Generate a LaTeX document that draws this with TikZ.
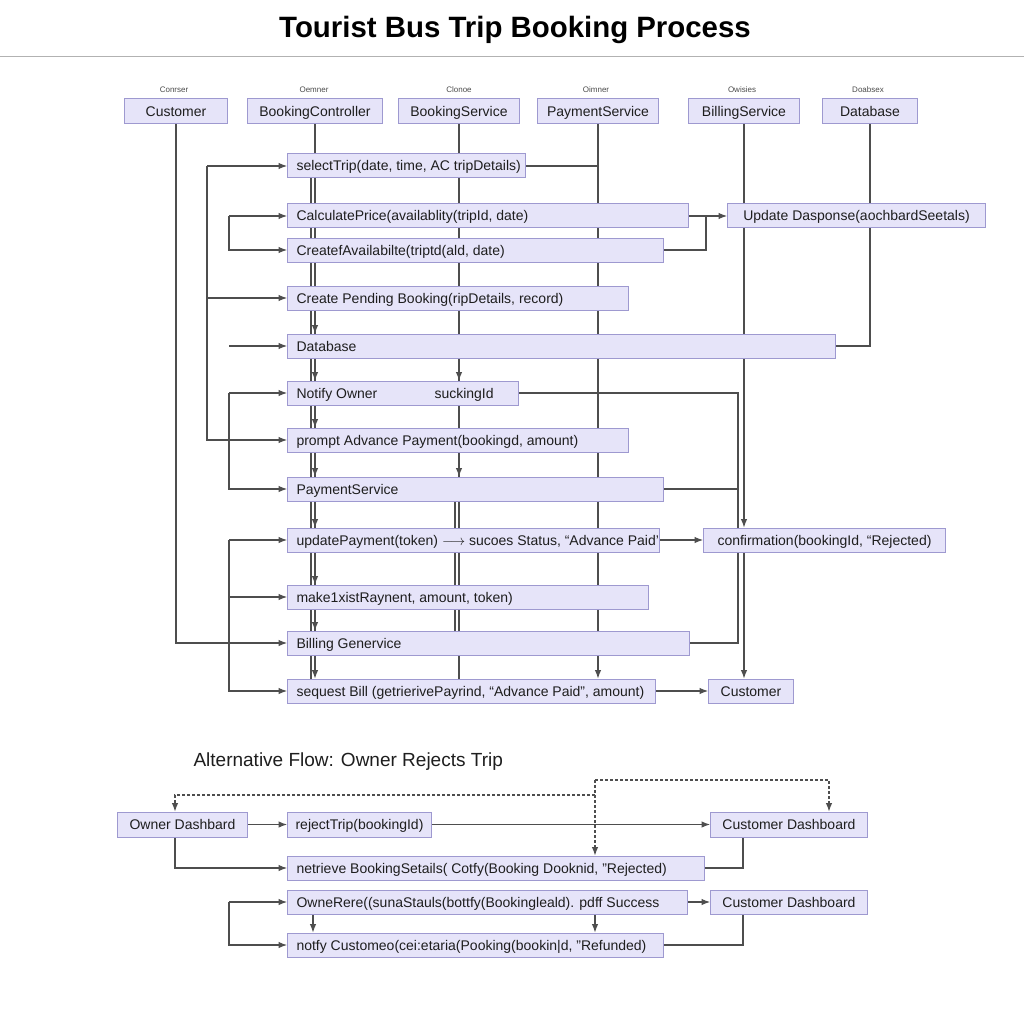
\documentclass[tikz,border=0pt]{standalone}
\usepackage{fontspec}
\setmainfont{Liberation Sans}
\usetikzlibrary{arrows.meta,backgrounds,calc}
\definecolor{boxc}{RGB}{230,228,249}
\definecolor{bordc}{RGB}{158,153,208}
\definecolor{linec}{RGB}{78,78,78}
\definecolor{txtc}{RGB}{30,30,30}
\newcommand\mlbox[2]{\makebox[#1pt][l]{#2}}
\begin{document}
\begin{tikzpicture}[x=1pt,y=-1pt,
  base/.style={draw=bordc, fill=boxc, line width=1pt, minimum height=24pt, inner ysep=0pt, text height=12pt, text depth=2pt, text=txtc, font=\fontsize{14}{16}\selectfont},
  msg/.style={base, anchor=west, inner xsep=9pt},
  cbox/.style={base, anchor=west, inner xsep=2pt},
  lnk/.style={draw=linec, line width=1.05pt},
  arr/.style={lnk, -{Latex[length=8.5pt,width=6.5pt]}},
  dsh/.style={arr, dash pattern=on 3pt off 2pt},
  tiny/.style={font=\fontsize{8}{9}\selectfont, text=black!70}
]
\useasboundingbox (0,0) rectangle (1024,1024);
% title
\node[font=\bfseries\fontsize{29.4}{33}\selectfont, text=black] (title) at (515,30) {Tourist Bus Trip Booking Process};
% header labels
\node[tiny] (t1) at (174,90) {Conrser};
\node[tiny] (t2) at (314,90) {Oemner};
\node[tiny] (t3) at (459,90) {Clonoe};
\node[tiny] (t4) at (596,90) {Oimner};
\node[tiny] (t5) at (742,90) {Owisies};
\node[tiny] (t6) at (868,90) {Doabsex};
% header boxes
\node[cbox, minimum width=103pt, minimum height=25pt] (hCust) at (124,111.5) {Customer};
\node[cbox, minimum width=135pt, minimum height=25pt] (hBC) at (247,111.5) {BookingController};
\node[cbox, minimum width=121pt, minimum height=25pt] (hBS) at (398,111.5) {BookingService};
\node[cbox, minimum width=121pt, minimum height=25pt] (hPS) at (537,111.5) {PaymentService};
\node[cbox, minimum width=111pt, minimum height=25pt] (hBiS) at (688,111.5) {BillingService};
\node[cbox, minimum width=95pt, minimum height=25pt] (hDB) at (822,111.5) {Database};
% messages
\node[msg] (m1) at (287,166) {\mlbox{220}{selectTrip(date, time, AC tripDetails)}};
\node[msg] (m2) at (287,216) {\mlbox{383}{CalculatePrice(availablity(tripId, date)}};
\node[cbox, minimum width=258pt] (upd) at (727,216) {Update Dasponse(aochbardSeetals)};
\node[msg] (m3) at (287,250) {\mlbox{358}{CreatefAvailabilte(triptd(ald, date)}};
\node[msg] (m4) at (287,298) {\mlbox{323}{Create Pending Booking(ripDetails, record)}};
\node[msg] (m5) at (287,346) {\mlbox{530}{Database}};
\node[msg] (m6) at (287,393) {\mlbox{213}{\makebox[138pt][l]{Notify Owner}suckingId}};
\node[msg] (m7) at (287,440) {\mlbox{323}{prompt Advance Payment(bookingd, amount)}};
\node[msg] (m8) at (287,489) {\mlbox{358}{PaymentService}};
\node[msg] (m9) at (287,540) {\mlbox{354}{updatePayment(token) $\longrightarrow$ sucoes Status, “Advance Paid’}};
\node[cbox, minimum width=242pt] (conf) at (703,540) {confirmation(bookingId, “Rejected)};
\node[msg] (m10) at (287,597) {\mlbox{343}{make1xistRaynent, amount, token)}};
\node[msg] (m11) at (287,643) {\mlbox{384}{Billing Genervice}};
\node[msg] (m12) at (287,691) {\mlbox{350}{sequest Bill (getrierivePayrind, “Advance Paid”, amount)}};
\node[cbox, minimum width=85pt] (cust2) at (708,691) {Customer};
% alternative flow
\node[font=\fontsize{19}{22}\selectfont, anchor=west, text=txtc] (alt) at (190,762) {Alternative Flow: Owner Rejects Trip};
\node[cbox, minimum width=130pt, minimum height=25pt] (od) at (117,824.5) {Owner Dashbard};
\node[cbox, minimum width=144pt, minimum height=25pt] (rj) at (287,824.5) {rejectTrip(bookingId)};
\node[cbox, minimum width=157pt, minimum height=25pt] (cd1) at (710,824.5) {Customer Dashboard};
\node[msg] (nr) at (287,868) {\mlbox{399}{netrieve BookingSetails( Cotfy(Booking Dooknid, "Rejected)}};
\node[msg] (or) at (287,902) {\mlbox{382}{OwneRere((sunaStauls(bottfy(Bookingleald). pdff Success}};
\node[cbox, minimum width=157pt] (cd2) at (710,902) {Customer Dashboard};
\node[msg] (nf) at (287,945) {\mlbox{358}{notfy Customeo(cei:etaria(Pooking(bookin|d, "Refunded)}};

\begin{pgfonlayer}{background}
\fill[white] (0,0) rectangle (1024,1024);
\draw[black!30, line width=0.8pt] (0,56) -- (1024,56);
% lifelines
\draw[arr] (hCust.south) |- (m11.west);
\draw[arr] (hBC.south) -- (hBC.south |- m12.north);
\draw[lnk] ($(m1.south -| hBC.south)+(-4,0)$) -- ($(m12.north -| hBC.south)+(-4,0)$);
\foreach \m in {m5,m6,m7,m8,m9,m10,m11}{
  \draw[arr] ($(\m.north -| hBC.south)+(0,-12)$) -- (\m.north -| hBC.south);
}
\draw[lnk] (hBS.south) -- (hBS.south |- m12.north);
\draw[lnk] ($(m8.south -| hBS.south)+(-4,0)$) -- ($(m11.north -| hBS.south)+(-4,0)$);
\foreach \m in {m6,m8}{
  \draw[arr] ($(\m.north -| hBS.south)+(0,-12)$) -- (\m.north -| hBS.south);
}
\draw[arr] (hPS.south) -- (hPS.south |- m12.north);
\draw[lnk] (m1.east) -- (m1.east -| hPS.south);
\draw[arr] (hBiS.south) -- (conf.north -| hBiS.south);
\draw[arr] (conf.south -| hBiS.south) -- (cust2.north -| hBiS.south);
\draw[lnk] (hDB.south) |- (m5.east);
% message links
\draw[arr] (m2.east) -- (upd.west);
\coordinate (j1) at (706,216);
\draw[lnk] (m3.east) -| (j1);
\coordinate (a1) at (229,216);
\draw[arr] (a1) -- (m2.west);
\draw[arr] (a1) |- (m3.west);
\coordinate (b1) at (207,166);
\draw[arr] (b1) -- (m1.west);
\draw[arr] (b1) |- (m7.west);
\draw[arr] (b1 |- m4.west) -- (m4.west);
\coordinate (c0) at (229,346);
\draw[arr] (c0) -- (m5.west);
\coordinate (c1) at (229,393);
\draw[arr] (c1) -- (m6.west);
\draw[arr] (c1) |- (m8.west);
\coordinate (d1) at (738,393);
\draw[lnk] (m6.east) -- (d1) |- (m11.east);
\draw[lnk] (m8.east) -- (m8.east -| d1);
\draw[arr] (m9.east) -- (conf.west);
\coordinate (e1) at (229,540);
\draw[arr] (e1) -- (m9.west);
\draw[arr] (e1) |- (m12.west);
\draw[arr] (e1 |- m10.west) -- (m10.west);
\draw[arr] (m12.east) -- (cust2.west);
% alternative flow links
\draw[arr] (od.east) -- (rj.west);
\draw[arr] (rj.east) -- (cd1.west);
\draw[arr] ($(od.south west)+(58,0)$) |- (nr.west);
\draw[lnk] (nr.east) -| ($(cd1.south west)+(33,0)$);
\coordinate (f1) at (595,780);
\coordinate (f2) at (595,795);
\draw[dsh] (f2) -| ($(od.north west)+(58,0)$);
\draw[dsh] (f1) -| ($(cd1.north west)+(119,0)$);
\draw[dsh] (f1) -- (f1 |- nr.north);
\draw[arr] (or.east) -- (cd2.west);
\draw[lnk] (nf.east) -| ($(cd2.south west)+(33,0)$);
\coordinate (g1) at (229,902);
\draw[arr] (g1) -- (or.west);
\draw[arr] (g1) |- (nf.west);
\draw[arr] ($(or.south west)+(26,0)$) -- ($(nf.north west)+(26,0)$);
\draw[arr] ($(or.south west)+(308,0)$) -- ($(nf.north west)+(308,0)$);
\end{pgfonlayer}
\end{tikzpicture}
\end{document}
